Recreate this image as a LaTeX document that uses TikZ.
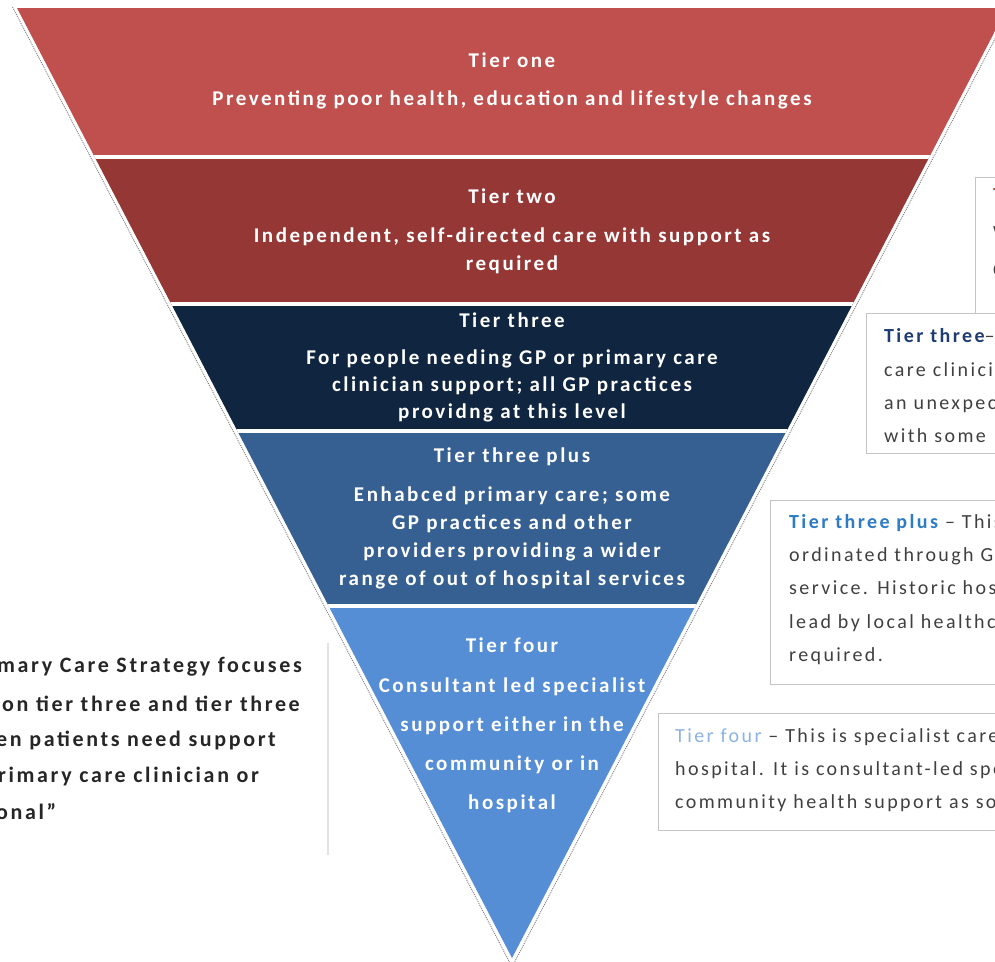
\documentclass[tikz,border=0pt]{standalone}
\usepackage{fontspec}
\setmainfont{Carlito}[LetterSpace=12]
\usetikzlibrary{calc}
\definecolor{tierone}{HTML}{C0504D}
\definecolor{tiertwo}{HTML}{953735}
\definecolor{tierthree}{HTML}{10253F}
\definecolor{tierthreeplus}{HTML}{376092}
\definecolor{tierfour}{HTML}{558ED5}
\definecolor{boxline}{HTML}{C4C4C4}
\definecolor{bodytext}{HTML}{404040}
\definecolor{quotetext}{HTML}{262626}
\definecolor{headthree}{HTML}{1F3D73}
\definecolor{headthreeplus}{HTML}{2E7BC6}
\definecolor{headfour}{HTML}{8DB3E2}
\definecolor{quoteline}{HTML}{E3E3E3}
\begin{document}
\begin{tikzpicture}[x=1pt,y=-1pt,
  tiertitle/.style={text=white,inner sep=0pt,font=\fontsize{21}{25}\selectfont\bfseries},
  tierbody/.style={text=white,inner sep=0pt,align=center,font=\fontsize{21}{#1}\selectfont\bfseries},
  notebox/.style={draw=boxline,line width=1.2pt,fill=white,inner sep=0pt,anchor=north west},
  notetext/.style={text=bodytext,inner sep=0pt,align=left,anchor=west,font=\fontsize{20}{#1}\selectfont},
  sidequote/.style={text=quotetext,inner sep=0pt,anchor=west,font=\fontsize{22}{26}\selectfont\bfseries},
  outline/.style={draw=gray,line width=0.9pt,dash pattern=on 1pt off 1pt},
  tiergap/.style={draw=white,line width=4pt}]
\useasboundingbox (0,0) rectangle (995,961);
\clip (0,0) rectangle (995,961);

% inverted pyramid, cut into five tiers
\coordinate (TL) at (17,8);
\coordinate (TR) at (1007,8);
\coordinate (AP) at (512,958);
\begin{scope}
  \clip (TL) -- (TR) -- (AP) -- cycle;
  \fill[tierone]       (0,0)   rectangle (1020,157);
  \fill[tiertwo]       (0,157) rectangle (1020,304);
  \fill[tierthree]     (0,304) rectangle (1020,430);
  \fill[tierthreeplus] (0,430) rectangle (1020,605);
  \fill[tierfour]      (0,605) rectangle (1020,970);
  \draw[tiergap] (0,157) -- (1020,157);
  \draw[tiergap] (0,304) -- (1020,304);
  \draw[tiergap] (0,430.5) -- (1020,430.5);
  \draw[tiergap] (0,605.5) -- (1020,605.5);
\end{scope}
% dotted outline along the slanted sides
\coordinate (OL) at (12.5,7);
\coordinate (OA) at (512,967);
\coordinate (OR) at (1011.5,7);
\draw[outline] (OL) -- (OA) -- (OR);

% tier labels
\node[tiertitle] (t1h) at (512,60) {Tier one};
\node[tierbody=25] (t1b) at (512,100) {Preventing poor health, education and lifestyle changes};
\node[tiertitle] (t2h) at (512,196) {Tier two};
\node[tierbody=28] (t2b) at (512,251) {Independent, self-directed care with support as\\required};
\node[tiertitle] (t3h) at (512,320) {Tier three};
\node[tierbody=27] (t3b) at (512,386) {For people needing GP or primary care\\clinician support; all GP practices\\providng at this level};
\node[tiertitle] (t3ph) at (512,457) {Tier three plus};
\node[tierbody=28] (t3pb) at (512,538) {Enhabced primary care; some\\GP practices and other\\providers providing a wider\\range of out of hospital services};
\node[tiertitle] (t4h) at (512,645) {Tier four};
\node[tierbody=39] (t4b) at (512,745) {Consultant led specialist\\support either in the\\community or in\\hospital};

% explanatory boxes on the right
\node[notebox,minimum width=140,minimum height=136] (b2) at (975,177) {};
\node[notetext=37.5] (b2t) at (993,232.5) {\textcolor{tierone}{\bfseries Tier two}\\With\\Care};
\node[notebox,minimum width=150,minimum height=140] (b3) at (866,313) {};
\node[notetext=33.3] (b3t) at (884,386) {\textcolor{headthree}{\bfseries Tier three}--\\care clinician\\an unexpected\\with some};
\node[notebox,minimum width=250,minimum height=184] (b3p) at (770,500) {};
\node[notetext=33.2] (b3pt) at (789,589.5) {\textcolor{headthreeplus}{\bfseries Tier three plus} -- This\\ordinated through GP\\service. Historic hospital\\lead by local healthcare\\required.};
\node[notebox,minimum width=360,minimum height=117] (b4) at (658,713) {};
\node[notetext=33] (b4t) at (675,770) {\textcolor{headfour}{Tier four} -- This is specialist care\\hospital. It is consultant-led specialist\\community health support as soon};

% quotation on the left
\node[sidequote] (q1) at (-3,667) {mary Care Strategy focuses};
\node[sidequote] (q2) at (2,704) {on tier three and tier three};
\node[sidequote] (q3) at (-4,740) {en patients need support};
\node[sidequote] (q4) at (-2,776) {rimary care clinician or};
\node[sidequote] (q5) at (-4,812) {onal”};
\coordinate (qtop) at (328,643);
\coordinate (qbot) at (328,855);
\draw[quoteline,line width=1.2pt] (qtop) -- (qbot);
\end{tikzpicture}
\end{document}
